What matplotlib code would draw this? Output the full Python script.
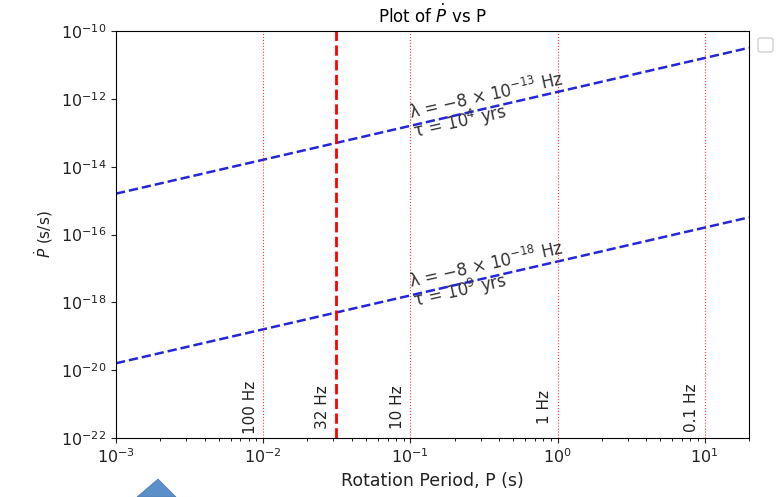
import numpy as np
import matplotlib
matplotlib.use("Agg")
import matplotlib.pyplot as plt
from matplotlib.patches import FancyBboxPatch, Polygon
from matplotlib.ticker import NullLocator

# spin-down lines (endpoints, log-log straight lines)
period = [1e-3, 20.0]
pdot_young = [1.6e-15, 3.2e-11]   # tau = 1e4 yrs
pdot_old = [1.6e-20, 3.2e-16]     # tau = 1e9 yrs

# rotation frequency markers
freq_period = [0.01, 1 / 32, 0.1, 1.0, 10.0]
freq_labels = ["100 Hz", "32 Hz", "10 Hz", "1 Hz", "0.1 Hz"]

# annotation anchors (on the lines at P = 0.1 s)
note_x = 0.1
note_y = [1.9e-13, 1.9e-18]
note_txt = ["λ = −8 × 10$^{-13}$ Hz\nτ = 10$^{4}$ yrs",
            "λ = −8 × 10$^{-18}$ Hz\nτ = 10$^{9}$ yrs"]

fig = plt.figure(figsize=(7.81, 4.97), dpi=100)
ax = fig.add_axes([0.1485, 0.1187, 0.8105, 0.8189])

ax.plot(period, pdot_young, "--", color="#2626d9", lw=1.8)
ax.plot(period, pdot_old, "--", color="#2626d9", lw=1.8)

for p, lab in zip(freq_period, freq_labels):
    if lab == "32 Hz":
        ax.axvline(p, color="red", ls="--", lw=2)
    else:
        ax.axvline(p, color="red", ls=":", lw=0.8, alpha=0.8)
    ax.text(p / 1.09, 8e-22, lab, rotation=90, ha="right", va="center",
            fontsize=11, color="#222222")

for y, t in zip(note_y, note_txt):
    ax.text(note_x * 1.02, y, t, rotation=12.5, rotation_mode="anchor",
            ha="left", va="center", multialignment="left",
            fontsize=12, color="#333333", linespacing=0.85)

ax.set_xscale("log")
ax.set_yscale("log")
ax.set_xlim(1e-3, 20)
ax.set_ylim(1e-22, 1e-10)
ax.set_yticks([10.0 ** k for k in range(-22, -9, 2)])
ax.yaxis.set_minor_locator(NullLocator())
ax.tick_params(labelsize=11.5, colors="#222222")

ax.set_title(r"Plot of $\dot{P}$ vs P", fontsize=12)
ax.set_xlabel("Rotation Period, P (s)", fontsize=12.5, color="#222222")
ax.set_ylabel(r"$\dot{P}$ (s/s)", fontsize=11, color="#222222")

# empty legend box to the right of the axes
fig.patches.append(FancyBboxPatch((758 / 781, 1 - 52 / 497), 15 / 781, 14 / 497,
                                  boxstyle="round,pad=0,rounding_size=0.004",
                                  transform=fig.transFigure, fc="white",
                                  ec="#d0d0d0", lw=1))

# blue arrow shape cut off at the bottom of the screenshot
fig.patches.append(Polygon([(137 / 781, 0), (158 / 781, 1 - 479 / 497), (176 / 781, 0)],
                           closed=True, transform=fig.transFigure,
                           fc="#5b8fc9", ec="#4a7ab3", lw=0.5))

fig.savefig("out.png", dpi=100)
